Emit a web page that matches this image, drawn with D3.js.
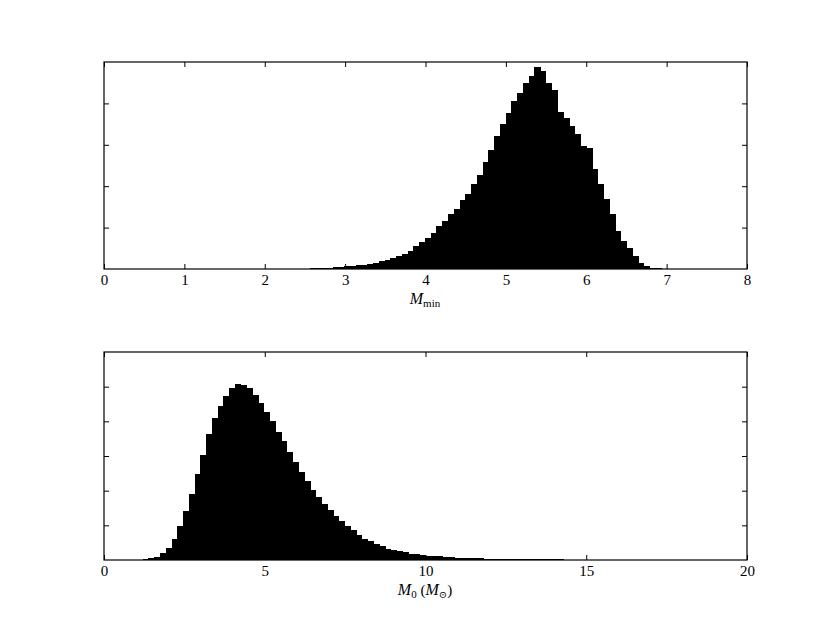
<!DOCTYPE html>
<html>
<head>
<meta charset="utf-8">
<script src="https://cdn.jsdelivr.net/npm/d3@7"></script>
<style>
  body { margin: 0; background: #fff; }
  svg { display: block; }
  .tick text { font-family: "Liberation Serif", "DejaVu Serif", serif; font-size: 15px; fill: #000; }
  .lbl { font-family: "Liberation Serif", "DejaVu Serif", serif; font-size: 15px; fill: #000; }
</style>
</head>
<body>
<div id="chart"></div>
<script>
// top panel: M_min histogram (bin edges start at mminStart, step mminWidth)
var mminStart = 1.842, mminWidth = 0.0717;
var mminCounts = [2, 4, 5, 5, 7, 7, 10, 10,
    12, 12, 17, 19, 24, 31, 39, 48, 63, 72, 87, 104, 128, 152, 184, 225, 256, 304, 370, 442, 546, 652,
    749, 870, 1029, 1167, 1336, 1457, 1657, 1812, 2053, 2261, 2585, 2882, 3220, 3510, 3768, 4048,
    4242, 4493, 4652, 4879, 4790, 4493, 4314, 3783, 3647, 3461, 3268, 2978, 2923, 2415, 2053, 1691,
    1329, 908, 667, 507, 321, 145, 63, 31, 17, 12, 10, 7, 7, 5, 5, 2];
var mminTicks = [0, 1, 2, 3, 4, 5, 6, 7, 8];

// bottom panel: M_0 histogram
var m0Start = 0.485, m0Width = 0.1795;
var m0Counts = [3, 6, 9, 14, 29, 46, 86, 202, 346, 605, 968, 1421, 1902, 2487, 3035, 3631, 4092, 4447, 4744, 4957,
    5072, 5043, 4957, 4764, 4542, 4282, 4023, 3706, 3447, 3101, 2813, 2536, 2265, 2017, 1804, 1614,
    1441, 1268, 1112, 988, 853, 729, 614, 536, 470, 392, 326, 297, 248, 219, 182, 161, 144, 124, 115,
    104, 86, 75, 66, 60, 55, 50, 46, 42, 38, 35, 32, 29, 27, 25, 23, 21, 20, 18, 17, 16, 15, 14, 13,
    12, 11, 10, 9, 9, 8, 7, 7, 6, 6, 5, 5, 4, 4, 3, 3, 2];
var m0Ticks = [0, 5, 10, 15, 20];

var svg = d3.select("#chart").append("svg")
    .attr("width", 830).attr("height", 623);

function panel(top, bottom, xmax, ymax, xticks, start, width, counts) {
    var x = d3.scaleLinear().domain([0, xmax]).range([104, 747]);
    var y = d3.scaleLinear().domain([0, ymax]).range([bottom, top]);
    var g = svg.append("g");

    var bins = counts.map(function (c, i) {
        return {x0: start + i * width, x1: start + (i + 1) * width, n: c};
    });
    g.append("g")
        .attr("shape-rendering", "crispEdges")
        .selectAll("rect")
        .data(bins)
        .enter().append("rect")
        .attr("x", function (d) { return x(d.x0); })
        .attr("width", function (d) { return x(d.x1) - x(d.x0) + 0.5; })
        .attr("y", function (d) { return y(d.n); })
        .attr("height", function (d) { return y(0) - y(d.n); })
        .attr("fill", "#000");

    var yt = d3.range(1000, ymax, 1000);
    g.append("g").attr("transform", "translate(0," + bottom + ")")
        .call(d3.axisBottom(x).tickValues(xticks).tickSizeInner(-5).tickSizeOuter(0).tickPadding(5).tickFormat(d3.format("d")));
    g.append("g").attr("transform", "translate(0," + top + ")")
        .call(d3.axisTop(x).tickValues(xticks).tickSizeInner(-5).tickSizeOuter(0).tickFormat(""));
    g.append("g").attr("transform", "translate(104,0)")
        .call(d3.axisLeft(y).tickValues(yt).tickSizeInner(-5).tickSizeOuter(0).tickFormat(""));
    g.append("g").attr("transform", "translate(747,0)")
        .call(d3.axisRight(y).tickValues(yt).tickSizeInner(-5).tickSizeOuter(0).tickFormat(""));
    g.selectAll(".domain").remove();
    g.selectAll(".tick line").attr("stroke", "#000");

    g.append("rect")
        .attr("x", 104).attr("y", top)
        .attr("width", 643).attr("height", bottom - top)
        .attr("fill", "none").attr("stroke", "#000").attr("stroke-width", 1.2);
}

panel(62, 269, 8, 5000, mminTicks, mminStart, mminWidth, mminCounts);
panel(352, 560, 20, 6000, m0Ticks, m0Start, m0Width, m0Counts);

// axis labels
var l1 = svg.append("text").attr("class", "lbl").attr("x", 425).attr("y", 304).attr("text-anchor", "middle");
l1.append("tspan").attr("font-style", "italic").attr("font-size", 16).text("M");
l1.append("tspan").attr("font-size", 11).attr("dy", 3).text("min");

var l2 = svg.append("text").attr("class", "lbl").attr("x", 425).attr("y", 595).attr("text-anchor", "middle");
l2.append("tspan").attr("font-style", "italic").attr("font-size", 16).text("M");
l2.append("tspan").attr("font-size", 11).attr("dy", 3).text("0");
l2.append("tspan").attr("dy", -3).text(" (");
l2.append("tspan").attr("font-style", "italic").attr("font-size", 16).text("M");
l2.append("tspan").attr("font-size", 10).attr("dy", 3).text("\u2299");
l2.append("tspan").attr("dy", -3).text(")");
</script>
</body>
</html>
